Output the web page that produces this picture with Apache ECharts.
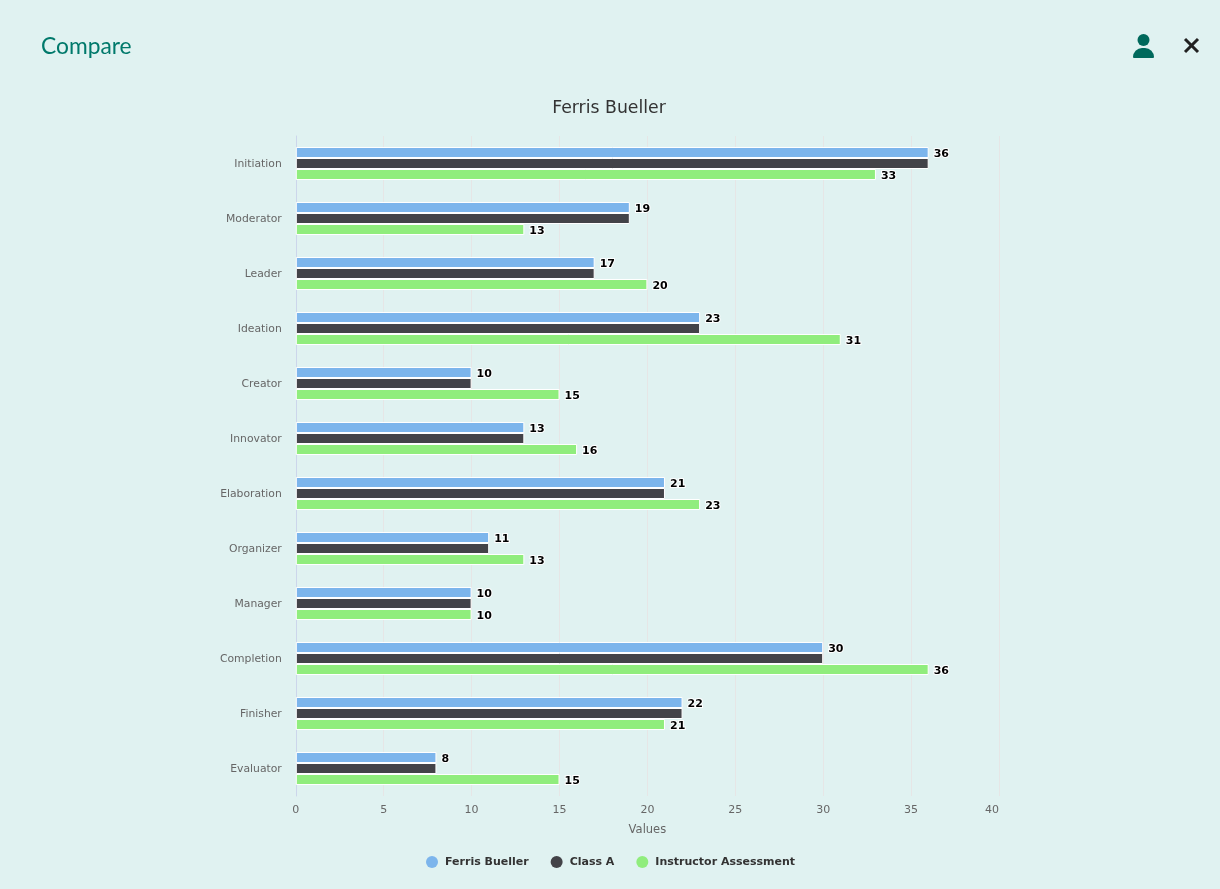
<!DOCTYPE html>
<html><head><meta charset="utf-8">
<style>html,body{margin:0;padding:0;background:#e0f2f1}#c{width:1220px;height:889px}</style>
<script src="https://cdn.jsdelivr.net/npm/echarts@6/dist/echarts.min.js"></script>
</head><body><div id="c"></div>
<script>
const categories = ['Initiation','Moderator','Leader','Ideation','Creator','Innovator','Elaboration','Organizer','Manager','Completion','Finisher','Evaluator'];
const ferris = [36,19,17,23,10,13,21,11,10,30,22,8];
const classA = [36,19,17,23,10,13,21,11,10,30,22,8];
const instructor = [33,13,20,31,15,16,23,13,10,36,21,15];
const font = '"DejaVu Sans", sans-serif';
const chart = echarts.init(document.getElementById('c'), null, {renderer:'canvas'});
function lbl(){return {show:true,position:'right',distance:5,offset:[0,2],color:'#000',fontFamily:font,fontSize:11,fontWeight:'bold',textBorderColor:'#fff',textBorderWidth:2};}
function ser(name,data,color,label){return {name,type:'bar',data,barWidth:11,barGap:'0%',itemStyle:{color,borderColor:'#fff',borderWidth:1},label:label?lbl():{show:false},animation:false,emphasis:{disabled:true}};}
chart.setOption({
  animation:false,
  backgroundColor:'#e0f2f1',
  title:{text:'Ferris Bueller',left:604,top:95,textAlign:'center',textStyle:{fontFamily:font,fontSize:17.3,fontWeight:'normal',color:'#333'}},
  legend:{left:421,top:851,icon:'circle',itemWidth:12,itemHeight:12,itemGap:22,selectedMode:false,itemStyle:{borderWidth:0},textStyle:{fontFamily:font,fontSize:11,fontWeight:'bold',color:'#333',padding:[0,0,0,2]}},
  grid:{left:295.8,top:136,width:703.2,height:660,containLabel:false},
  xAxis:{type:'value',min:0,max:40,interval:5,name:'Values',nameLocation:'middle',nameGap:28,
    nameTextStyle:{fontFamily:font,fontSize:11.5,color:'#666'},
    axisLine:{show:false},axisTick:{show:false},
    axisLabel:{fontFamily:font,fontSize:11,color:'#666',margin:9,alignMaxLabel:'right'},
    splitLine:{show:true,lineStyle:{color:'#e6e6e6',width:1}}},
  yAxis:{type:'category',inverse:true,data:categories,offset:1,
    axisLine:{show:true,lineStyle:{color:'#ccd6eb',width:1}},axisTick:{show:false},
    axisLabel:{fontFamily:font,fontSize:10.8,color:'#666',margin:13,verticalAlign:'top',lineHeight:2},splitLine:{show:false}},
  series:[ser('Ferris Bueller',ferris,'#7cb5ec',true),ser('Class A',classA,'#434348',false),ser('Instructor Assessment',instructor,'#90ed7d',true)],
  graphic:[
    {type:'text',x:41,y:35,style:{text:'Compare',fontFamily:'Lato, "Noto Sans", sans-serif',fontSize:22.8,fill:'#00796b'}},
    {type:'circle',shape:{cx:1143.5,cy:40,r:6},style:{fill:'#00695c'}},
    {type:'rect',shape:{x:1133,y:48,width:21,height:10,r:[9,9,1,1]},style:{fill:'#00695c'}},
    {type:'line',shape:{x1:1185,y1:39,x2:1198,y2:52},style:{stroke:'#212121',lineWidth:3}},
    {type:'line',shape:{x1:1198,y1:39,x2:1185,y2:52},style:{stroke:'#212121',lineWidth:3}}
  ]
});
</script></body></html>
